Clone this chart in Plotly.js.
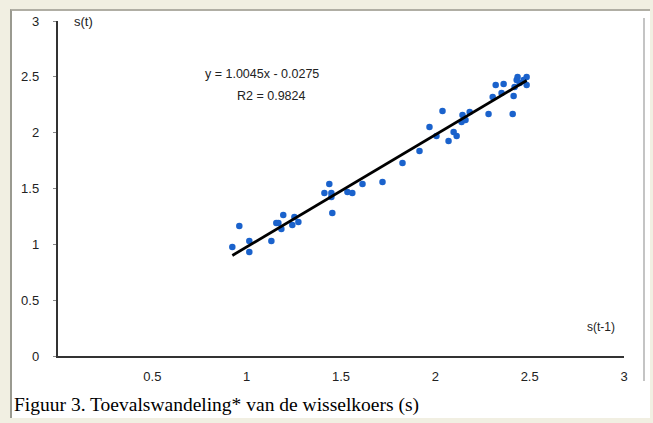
<!DOCTYPE html>
<html>
<head>
<meta charset="utf-8">
<script src="https://cdn.plot.ly/plotly-3.0.1.min.js"></script>
<style>
  html, body { margin:0; padding:0; background:#F1EFE2; }
  #frame { position:absolute; left:0; top:0; width:653px; height:423px; background:#F1EFE2; }
  #inner { position:absolute; left:10px; top:9px; width:640px; height:409px; background:#fff; border-left:2px solid #9a9a90; border-top:2px solid #b0aea4; box-sizing:border-box; }
  #vline { position:absolute; left:643px; top:18px; width:2px; height:363px; background:#c4c4c4; }
  #chart { position:absolute; left:0; top:0; width:653px; height:423px; }
</style>
</head>
<body>
<div id="frame"><div id="inner"></div><div id="vline"></div></div>
<div id="chart"></div>
<script>
// s(t-1) values (x) and s(t) values (y)
const sPrev = [0.924,0.961,1.014,1.014,1.131,1.157,1.168,1.194,1.184,1.253,1.242,1.274,
  1.412,1.438,1.449,1.449,1.454,1.534,1.560,1.614,1.720,
  1.826,1.916,1.969,2.038,2.006,2.070,2.097,2.113,2.139,2.144,2.160,2.182,
  2.282,2.304,2.320,2.351,2.362,2.410,2.415,2.420,2.431,2.436,2.447,2.484,2.484,2.468];
const sCurr = [0.976,1.164,1.030,0.931,1.030,1.191,1.191,1.262,1.137,1.244,1.173,1.200,
  1.459,1.540,1.459,1.423,1.280,1.468,1.459,1.540,1.558,
  1.728,1.835,2.050,2.193,1.970,1.925,2.005,1.970,2.095,2.158,2.113,2.184,
  2.167,2.319,2.426,2.355,2.435,2.167,2.328,2.408,2.471,2.498,2.444,2.498,2.426,2.471];
const slope = 1.0045, intercept = -0.0275, r2 = 0.9824;
const xTicks = [0.5,1,1.5,2,2.5,3];
const yTicks = [0,0.5,1,1.5,2,2.5,3];
const caption = "Figuur 3. Toevalswandeling* van de wisselkoers (s)";

const xMin = Math.min(...sPrev), xMax = Math.max(...sPrev);
const trendX = [xMin, xMax];
const trendY = trendX.map(v => slope*v + intercept);

const data = [
  {x: sPrev, y: sCurr, type:'scatter', mode:'markers',
   marker:{color:'#1A62CC', size:6.5}, hoverinfo:'skip'},
  {x: trendX, y: trendY, type:'scatter', mode:'lines',
   line:{color:'#000', width:2.8}, hoverinfo:'skip'}
];

const sans = 'Liberation Sans, Arial, sans-serif';
const tickFont = {family:sans, size:13, color:'#222'};
const layout = {
  width:653, height:423,
  margin:{l:58, r:29, t:21, b:67},
  paper_bgcolor:'rgba(0,0,0,0)', plot_bgcolor:'rgba(0,0,0,0)',
  showlegend:false,
  xaxis:{range:[0,3], tickvals:xTicks, ticktext:xTicks.map(String), showgrid:false, zeroline:false,
    showline:true, linecolor:'#333', linewidth:2.2, ticks:'', tickfont:tickFont, ticklabelstandoff:7, fixedrange:true},
  yaxis:{range:[0,3], tickvals:yTicks, ticktext:yTicks.map(String), showgrid:false, zeroline:false,
    showline:true, linecolor:'#333', linewidth:2.2, ticks:'outside', ticklen:3, tickcolor:'#888',
    tickfont:tickFont, ticklabelstandoff:11, fixedrange:true},
  annotations:[
    {xref:'paper', yref:'paper', x:0.024, y:1.0, xanchor:'left', yanchor:'middle', showarrow:false,
     text:'s(t)', font:{family:sans, size:13, color:'#222'}},
    {xref:'paper', yref:'paper', x:0.988, y:0.087, xanchor:'right', yanchor:'middle', showarrow:false,
     text:'s(t-1)', font:{family:sans, size:12, color:'#222'}},
    {xref:'paper', yref:'paper', x:0.36, y:0.842, xanchor:'center', yanchor:'middle', showarrow:false,
     text:'y = ' + slope.toFixed(4) + 'x - ' + Math.abs(intercept).toFixed(4),
     font:{family:sans, size:12.5, color:'#222'}},
    {xref:'paper', yref:'paper', x:0.378, y:0.776, xanchor:'center', yanchor:'middle', showarrow:false,
     text:'R2 = ' + r2.toFixed(4),
     font:{family:sans, size:12.5, color:'#222'}},
    {xref:'paper', yref:'paper', x:-0.081, y:-0.146, xanchor:'left', yanchor:'middle', showarrow:false,
     text:caption, font:{family:'Liberation Serif, Times New Roman, serif', size:19.5, color:'#000'}}
  ]
};
Plotly.newPlot('chart', data, layout, {staticPlot:true, displayModeBar:false});
</script>
</body>
</html>
